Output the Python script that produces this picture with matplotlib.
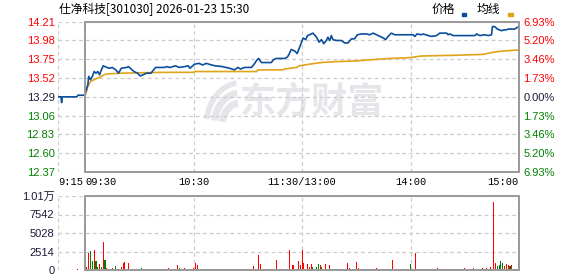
import matplotlib.pyplot as plt
import matplotlib.transforms as mtransforms
from matplotlib.patches import Rectangle, Arc


# ======================================
# DATA
# ======================================

title = "仕净科技[301030] 2026-01-23 15:30"

prev_close = 13.29
price_ticks = [12.37, 12.60, 12.83, 13.06, 13.29, 13.52, 13.75, 13.98, 14.21]
pct_labels = ["6.93%", "5.20%", "3.46%", "1.73%", "0.00%",
              "1.73%", "3.46%", "5.20%", "6.93%"]

# minutes from 09:30 (pre-market auction from 09:15 = -15)
pre_times = [-15, -13.3, -13, -12.7, -4.5, -4, 0]
pre_prices = [13.29, 13.29, 13.22, 13.29, 13.29, 13.31, 13.31]

price_times = [
    0, 1.5, 2, 3, 4, 5, 6, 7, 8, 9, 10, 12, 13.5, 15, 17, 18.5, 20, 23, 24,
    25.5, 27, 29, 30.5, 32, 34, 36.5, 37.5, 39, 44, 45, 47, 50, 52, 55, 57,
    58, 60.5, 63, 65, 67, 70, 72, 76, 80, 82.5, 84.5, 86, 88, 92, 93.5, 95,
    96, 97.5, 101, 103, 104, 105.5, 109.5, 110.5, 112, 113, 114, 116, 117.3,
    118.7, 120.6, 122, 123, 124.2, 126, 128, 129.4, 130.7, 132, 133.4, 134.3,
    135.3, 136.2, 137.1, 139, 141.7, 143.6, 145.4, 147.3, 149, 150.6, 152.8,
    155.6, 157.5, 159.3, 161.2, 163, 165, 166.2, 167.6, 169.4, 171.3, 177,
    181.5, 182.4, 183.6, 186, 187, 189.8, 191.6, 194.4, 196.2, 200, 200.8,
    201.7, 203.6, 211, 215.6, 216.5, 218.3, 221, 223, 224.8, 225.3, 226.6,
    228, 230.3, 231.6, 233, 234, 236, 237.7, 239, 240
]
price_values = [
    13.33, 13.44, 13.54, 13.50, 13.54, 13.60, 13.58, 13.60, 13.56, 13.62,
    13.67, 13.65, 13.64, 13.65, 13.62, 13.58, 13.64, 13.65, 13.66, 13.63,
    13.60, 13.58, 13.545, 13.56, 13.58, 13.58, 13.61, 13.65, 13.65, 13.66,
    13.65, 13.67, 13.65, 13.66, 13.67, 13.64, 13.69, 13.70, 13.68, 13.70,
    13.68, 13.67, 13.66, 13.64, 13.62, 13.65, 13.63, 13.65, 13.65, 13.69,
    13.74, 13.76, 13.71, 13.71, 13.71, 13.74, 13.76, 13.76, 13.76, 13.78,
    13.82, 13.87, 13.85, 13.82, 13.90, 14.01, 13.99, 14.04, 14.05, 14.07,
    14.02, 13.96, 13.99, 13.94, 13.98, 14.02, 13.98, 14.04, 13.99, 13.98,
    13.98, 13.95, 13.95, 14.00, 14.00, 14.05, 14.06, 14.06, 14.05, 14.07,
    14.05, 14.03, 14.01, 13.99, 14.03, 14.07, 14.05, 14.05, 14.05, 14.03,
    14.06, 14.05, 14.06, 14.04, 14.03, 14.04, 14.07, 14.07, 14.05, 14.06,
    14.04, 14.04, 14.04, 14.06, 14.04, 14.05, 14.04, 14.05, 14.15, 14.15,
    14.12, 14.10, 14.11, 14.11, 14.12, 14.12, 14.12, 14.14, 14.15
]

avg_times = [0, 1.5, 3, 5, 9, 10.5, 12, 20, 44, 60, 60.5, 95, 95.5, 109.5,
             110, 117, 118.5, 124, 130.7, 137, 150, 155.6, 168.5, 179.6,
             186, 206.4, 220.3, 225.5, 230.5, 240]
avg_values = [13.30, 13.415, 13.48, 13.50, 13.54, 13.56, 13.57, 13.58, 13.59,
              13.59, 13.60, 13.60, 13.62, 13.62, 13.63, 13.65, 13.67, 13.69,
              13.71, 13.72, 13.73, 13.74, 13.76, 13.77, 13.79, 13.80, 13.81,
              13.835, 13.85, 13.865]

vol_ticks = [0, 2514, 5028, 7542, 10056]
vol_tick_labels = ["0", "2514", "5028", "7542", "1.01万"]

pre_vol_time = -4
pre_volume = 150

# volume per minute, minutes 1..240
volumes = [
    450, 2360, 2590, 1270, 2720, 1270, 360, 820, 410, 3850,
    1360, 250, 150, 120, 300, 150, 540, 150, 150, 350,
    950, 1090, 120, 1000, 150, 150, 150, 150, 150, 150,
    250, 150, 150, 150, 150, 150, 150, 150, 150, 150,
    150, 150, 150, 150, 150, 220, 150, 150, 150, 150,
    680, 300, 150, 150, 300, 150, 150, 150, 150, 250,
    1000, 680, 150, 150, 150, 150, 150, 150, 150, 150,
    150, 150, 150, 150, 150, 150, 150, 150, 150, 150,
    150, 150, 150, 150, 150, 150, 150, 150, 150, 150,
    150, 150, 540, 150, 150, 2040, 820, 150, 150, 150,
    150, 150, 150, 150, 150, 1360, 150, 150, 150, 150,
    150, 150, 2720, 150, 680, 150, 150, 1220, 680, 2720,
    950, 150, 820, 410, 820, 400, 150, 400, 820, 680,
    400, 150, 820, 150, 680, 150, 150, 150, 150, 150,
    150, 150, 150, 150, 950, 300, 150, 150, 150, 1090,
    300, 150, 150, 150, 150, 150, 150, 150, 150, 200,
    300, 150, 150, 150, 150, 150, 150, 150, 150, 1360,
    150, 200, 150, 150, 150, 150, 150, 150, 150, 820,
    150, 150, 2310, 150, 150, 200, 150, 150, 150, 150,
    150, 150, 150, 150, 300, 150, 150, 150, 150, 150,
    150, 150, 150, 150, 150, 150, 150, 150, 150, 300,
    150, 150, 150, 150, 300, 150, 150, 150, 150, 300,
    150, 300, 150, 400, 150, 9250, 950, 540, 680, 1220,
    950, 540, 820, 680, 540, 680, 120, 150, 150, 1900
]

green_minutes = [3, 4, 6, 7, 9, 11, 13, 14, 17, 19, 23, 27, 29, 31, 35, 38,
                 42, 48, 52, 56, 64, 67, 70, 74, 78, 83, 87, 90, 100, 108,
                 110, 126, 128, 129, 131, 138, 142, 148, 155, 158, 164, 167,
                 175, 178, 180, 188, 192, 198, 204, 207, 212, 218, 228, 229,
                 230, 231, 235]

time_ticks = [-15, 0, 60, 120, 180, 240]
time_labels = ["9:15", "09:30", "10:30", "11:30/13:00", "14:00", "15:00"]
time_align = ["left", "left", "center", "center", "center", "right"]


# ======================================
# STYLE
# ======================================

W, H = 578, 276
RED = "#ff0000"
GREEN = "#008000"
DARK = "#1a1a3a"
GRID = "#cccccc"
BORDER = "#999999"
LINE_BLUE = "#0b4e9c"
LINE_GOLD = "#e0a418"
MARK = "#e6e6ea"

label_font = ["Liberation Sans", "Noto Sans CJK SC"]
time_font = ["Liberation Mono", "DejaVu Sans Mono"]
cjk_font = ["Noto Sans CJK SC", "DejaVu Sans"]

fig = plt.figure(figsize=(W / 100, H / 100), dpi=100)
fig.patch.set_facecolor("white")


def px_box(left, top, right, bottom):
    return [left / W, 1 - bottom / H, (right - left) / W, (bottom - top) / H]


def tick_color(v):
    if round(v, 2) > prev_close:
        return RED
    if round(v, 2) < prev_close:
        return GREEN
    return DARK


def frame(ax, ymin, ymax, yticks):
    for s in ax.spines.values():
        s.set_visible(False)
    for y in yticks:
        ax.axhline(y, color=GRID, lw=0.9, ls=(0, (3, 2.5)), zorder=1)
    for x in [-15, 60, 120, 180]:
        ax.axvline(x, color=GRID, lw=0.9, ls=(0, (3, 2.5)), zorder=1)
    ax.add_patch(Rectangle((0, ymin), 240, ymax - ymin, fill=False,
                           edgecolor=BORDER, lw=1.4, zorder=5, clip_on=False))
    ax.set_xlim(-15, 240)
    ax.set_ylim(ymin, ymax)
    ax.set_xticks([])


# ======================================
# WATERMARK
# ======================================

# overlay in pixel coordinates for the logo swirl
axw = fig.add_axes([0, 0, 1, 1], zorder=0)
axw.set_xlim(0, W)
axw.set_ylim(H, 0)
axw.axis("off")
for r, lw in [(22, 5), (32, 5), (42, 4)]:
    axw.add_patch(Arc((240, 125), 2 * r * 0.8, 2 * r, theta1=190,
                      theta2=265, color=MARK, lw=lw))

fig.text(240 / W, 1 - 102 / H, "东方财富", family=cjk_font, fontsize=26,
         fontweight="bold", color=MARK, ha="left", va="center", zorder=0)


# ======================================
# PRICE PANEL
# ======================================

ax = fig.add_axes(px_box(58, 21.7, 519, 172), zorder=2)
ax.patch.set_alpha(0)
frame(ax, price_ticks[0], price_ticks[-1], price_ticks)

ax.plot(pre_times, pre_prices, color=LINE_BLUE, lw=1.2, zorder=4)
ax.plot(price_times, price_values, color=LINE_BLUE, lw=1.2, zorder=4)
ax.plot(avg_times, avg_values, color=LINE_GOLD, lw=1.2, zorder=3)

ax.set_yticks(price_ticks)
ax.set_yticklabels([f"{v:.2f}" for v in price_ticks], family=label_font,
                   fontsize=8)
for lbl, v in zip(ax.get_yticklabels(), price_ticks):
    lbl.set_color(tick_color(v))
ax.tick_params(axis="y", length=0, pad=2.5)

ax_r = ax.twinx()
for s in ax_r.spines.values():
    s.set_visible(False)
ax_r.set_ylim(price_ticks[0], price_ticks[-1])
ax_r.set_yticks(price_ticks)
ax_r.set_yticklabels(pct_labels[::-1], family=label_font, fontsize=8)
for lbl, v in zip(ax_r.get_yticklabels(), price_ticks):
    lbl.set_color(tick_color(v))
ax_r.tick_params(axis="y", length=0, pad=3)

# time labels between the panels
trans = mtransforms.blended_transform_factory(ax.transData, ax.transAxes)
for t, lab, ha in zip(time_ticks, time_labels, time_align):
    ax.text(t, -0.066, lab, transform=trans, ha=ha, va="center",
            family=time_font, fontsize=7.5, color="black")

# title and legend
fig.text(59 / W, 1 - 9.5 / H, title, family=cjk_font, fontsize=8.5,
         ha="left", va="center", color="black")
fig.text(432 / W, 1 - 9.5 / H, "价格", family=cjk_font, fontsize=8.5,
         ha="left", va="center", color="black")
fig.patches.append(Rectangle((462 / W, 1 - 15.5 / H), 4 / W, 2.5 / H,
                             transform=fig.transFigure, color=LINE_BLUE))
fig.text(477 / W, 1 - 9.5 / H, "均线", family=cjk_font, fontsize=8.5,
         ha="left", va="center", color="black")
fig.patches.append(Rectangle((508 / W, 1 - 15.5 / H), 5 / W, 2.5 / H,
                             transform=fig.transFigure, color=LINE_GOLD))


# ======================================
# VOLUME PANEL
# ======================================

axv = fig.add_axes(px_box(58, 196, 519, 270), zorder=2)
axv.patch.set_alpha(0)
frame(axv, vol_ticks[0], vol_ticks[-1], vol_ticks)

minutes = list(range(1, len(volumes) + 1))
bar_colors = [GREEN if m in green_minutes else RED for m in minutes]
axv.bar(minutes, volumes, width=0.6, color=bar_colors, lw=0,
        antialiased=False, zorder=4)
axv.bar([pre_vol_time], [pre_volume], width=0.6, color=RED, lw=0,
        antialiased=False, zorder=4)

axv.set_yticks(vol_ticks)
axv.set_yticklabels(vol_tick_labels, family=label_font, fontsize=8,
                    color=DARK)
axv.tick_params(axis="y", length=0, pad=2.5)

fig.savefig("out.png", dpi=100)
